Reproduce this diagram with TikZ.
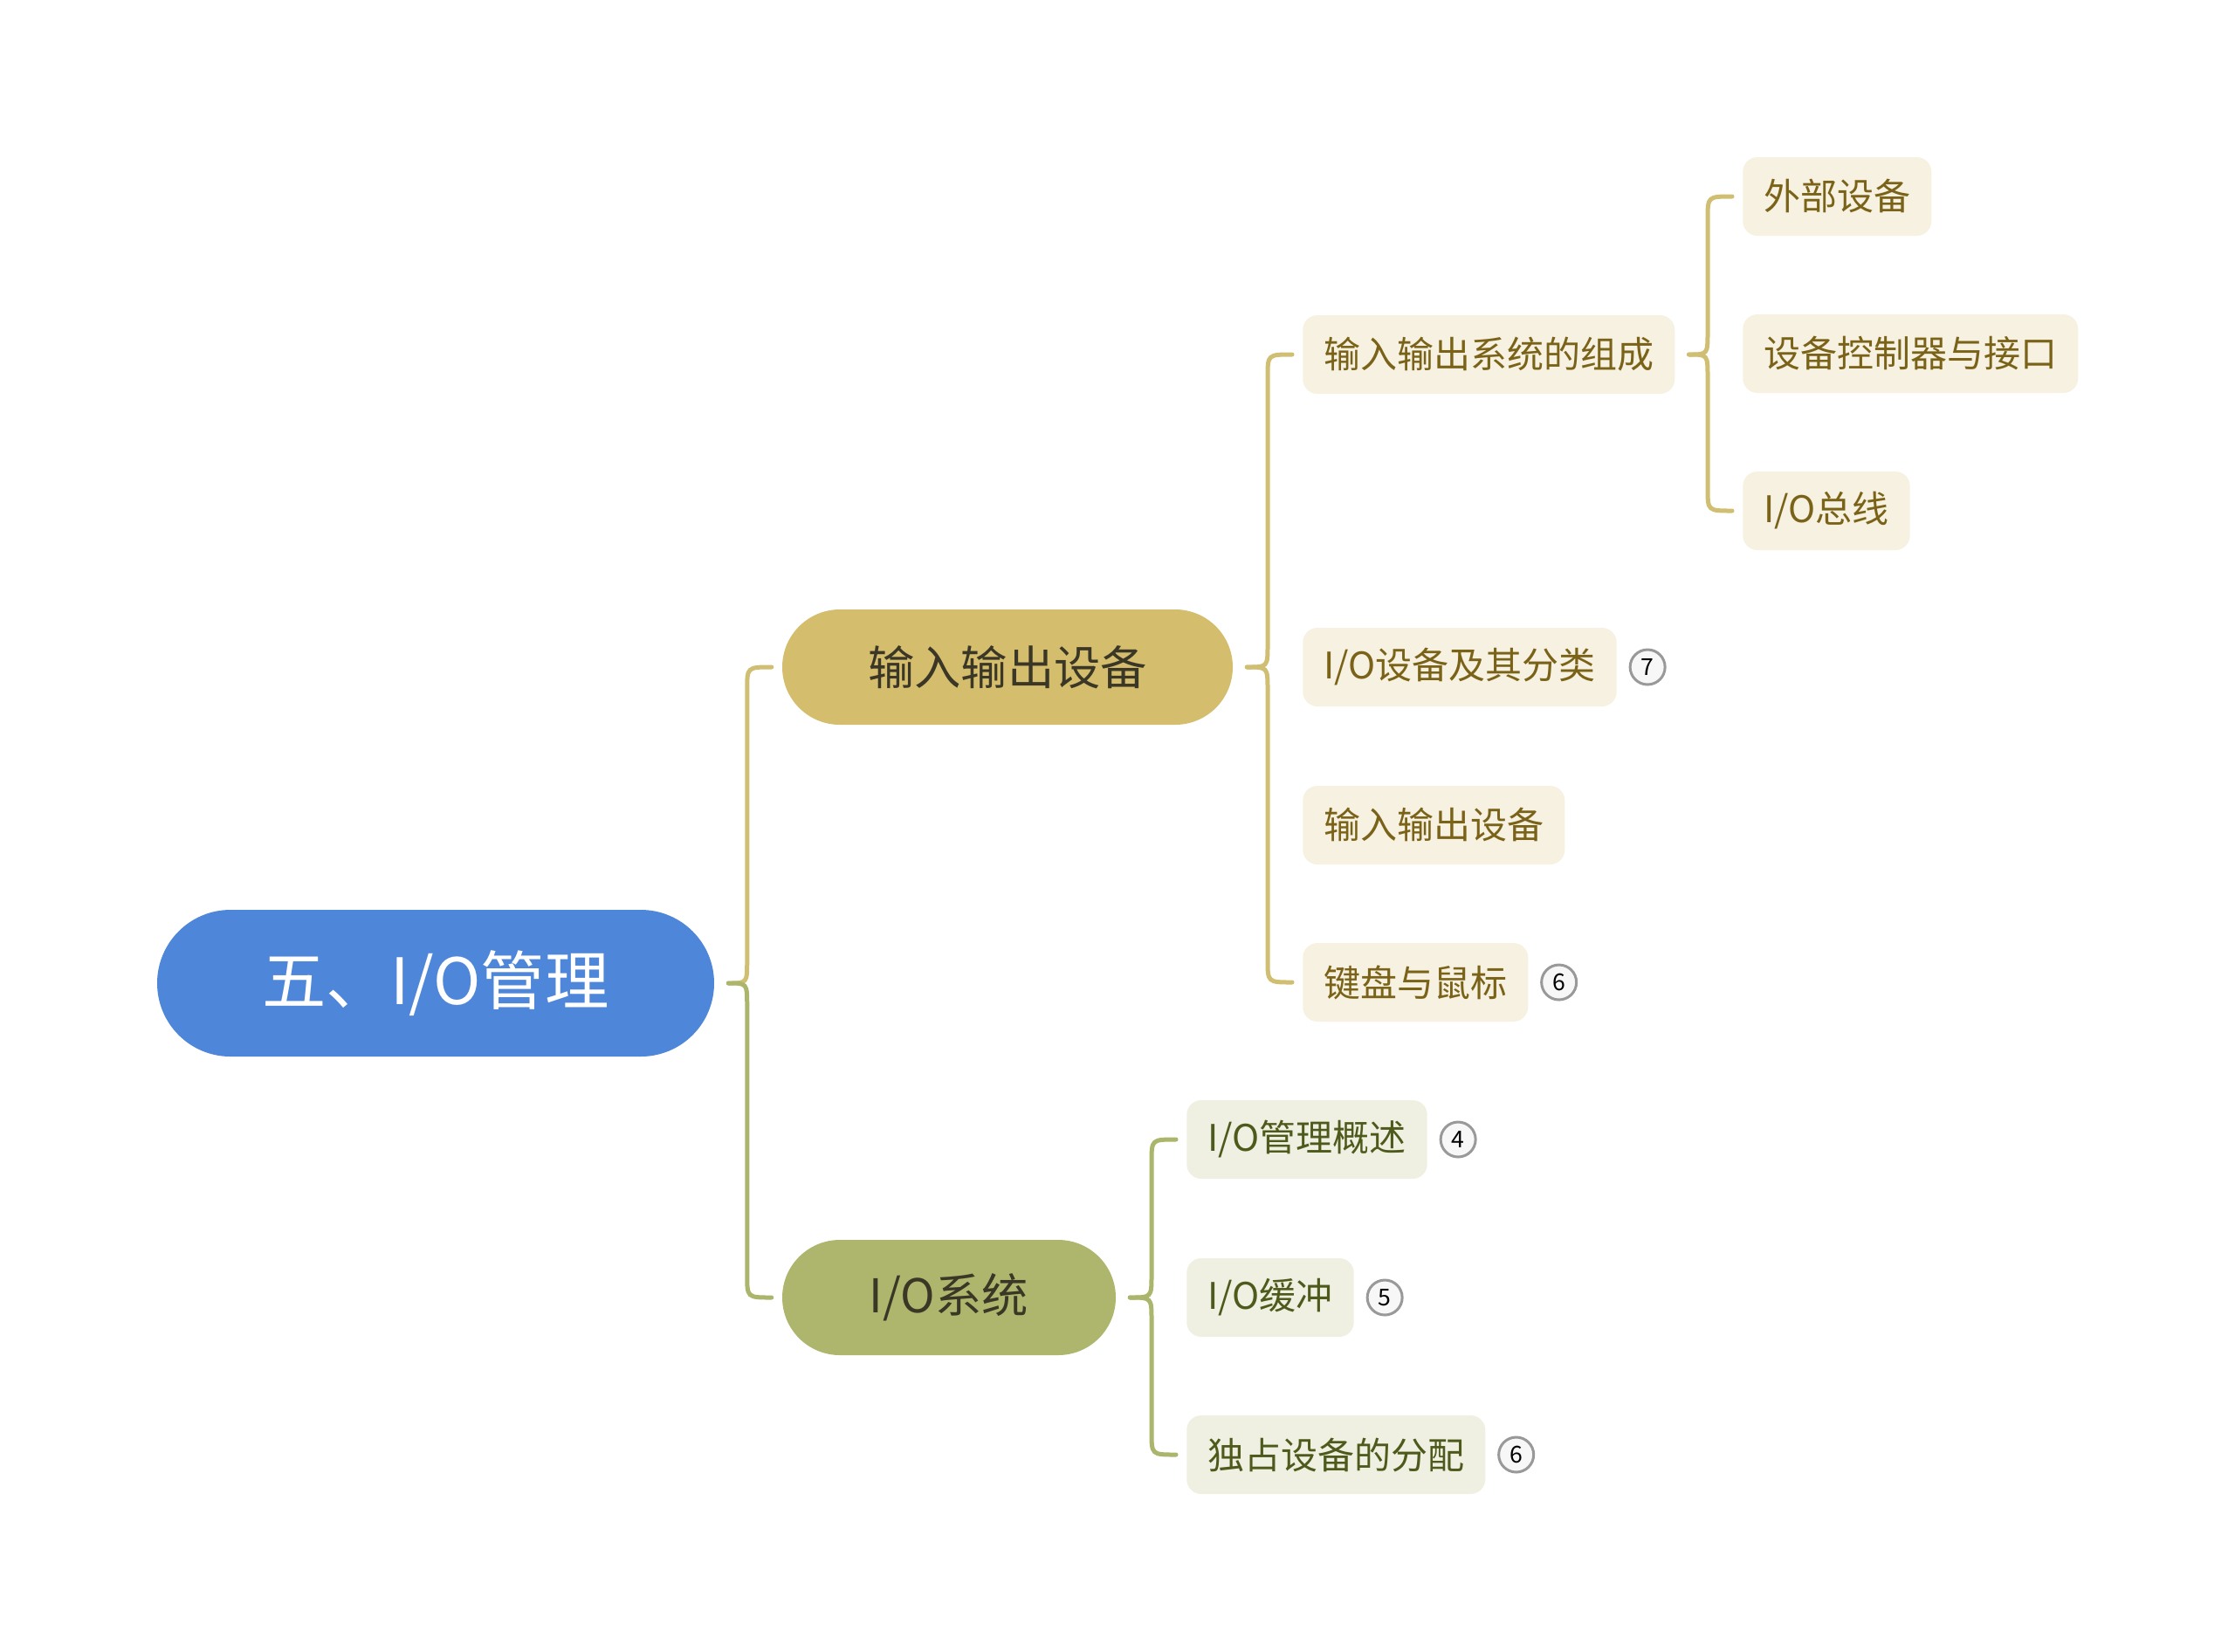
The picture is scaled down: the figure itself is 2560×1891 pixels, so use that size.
\documentclass[tikz,border=0pt]{standalone}
\usepackage{fontspec}
\setmainfont{Noto Sans CJK SC}
\usetikzlibrary{positioning,calc}

\definecolor{rootblue}{HTML}{4E86D9}
\definecolor{sandfill}{HTML}{D4BD6C}
\definecolor{olivefill}{HTML}{ADB66C}
\definecolor{sandlink}{HTML}{D0BE72}
\definecolor{olivelink}{HTML}{ABB56B}
\definecolor{sandleaf}{HTML}{F6F1E0}
\definecolor{oliveleaf}{HTML}{EFF0E1}
\definecolor{sandtext}{HTML}{7A6318}
\definecolor{olivetext}{HTML}{4E5A1C}
\definecolor{darktext}{HTML}{3B3726}

\tikzset{every picture/.style={line width=0.75pt}}
\tikzset{
  rootbox/.style={fill=rootblue, text=white, rounded corners=25.2pt, minimum width=191.4pt,
    minimum height=50.4pt, inner sep=0pt, font=\fontsize{22}{26}\selectfont},
  sandbox/.style={fill=sandfill, text=darktext, rounded corners=19.8pt, minimum width=154.8pt,
    minimum height=39.6pt, inner sep=0pt, font=\fontsize{16}{19}\selectfont},
  olivebox/.style={sandbox, fill=olivefill, minimum width=114.6pt},
  sandleafbox/.style={fill=sandleaf, text=sandtext, rounded corners=5pt, minimum height=27pt,
    inner xsep=7.2pt, inner ysep=0pt, anchor=west, font=\fontsize{12.6}{15}\selectfont},
  oliveleafbox/.style={sandleafbox, fill=oliveleaf, text=olivetext},
  badge/.style={circle, draw=black!40, line width=0.9pt, fill=black!3, minimum size=12pt,
    inner sep=0pt, font=\fontsize{8}{9}\selectfont, right=3.8pt of #1},
  sandline/.style={draw=sandlink, line width=1.5pt, line cap=round},
  oliveline/.style={draw=olivelink, line width=1.5pt, line cap=round}
}

% one half of a curly brace: style, parent, child, -1 when the child lies above
\newcommand{\bracelink}[4]{%
  \draw[#1] ($(#2.east)+(15,0)$)
    .. controls ($(#3.west |- #2.east)+(-39,0)$) .. ($(#3.west |- #2.east)+(-39,26*#4)$)
    -- ($(#3.west)+(-39,-26*#4)$)
    .. controls ($(#3.west)+(-39,0)$) .. ($(#3.west)+(-11,0)$);}

\begin{document}
\begin{tikzpicture}[x=0.3pt,y=0.3pt,yscale=-1,xscale=1]
  \path[use as bounding box] (0,0) rectangle (2560,1891);

  % Root
  \node[rootbox] (root) at (499,1126) {五、I/O管理};

  % Main branches
  \node[sandbox] (dev) at (1154,764) {输入输出设备};
  \node[olivebox] (sys) at (1087,1486) {I/O系统};

  % Leaves of the first branch
  \node[sandleafbox] (parts) at (1491,406) {输入输出系统的组成};
  \node[sandleafbox] (kinds) at (1491,764) {I/O设备及其分类};
  \node[sandleafbox] (iodev) at (1491,945) {输入输出设备};
  \node[sandleafbox] (keys) at (1491,1125) {键盘与鼠标};
  \node[badge=kinds] (nkinds) {7};
  \node[badge=keys] (nkeys) {6};

  \node[sandleafbox] (outer) at (1995,225) {外部设备};
  \node[sandleafbox] (ctrl) at (1995,405) {设备控制器与接口};
  \node[sandleafbox] (bus) at (1995,585) {I/O总线};

  % Leaves of the second branch
  \node[oliveleafbox] (intro) at (1358,1305) {I/O管理概述};
  \node[oliveleafbox] (buf) at (1358,1486) {I/O缓冲};
  \node[oliveleafbox] (alloc) at (1358,1666) {独占设备的分配};
  \node[badge=intro] (nintro) {4};
  \node[badge=buf] (nbuf) {5};
  \node[badge=alloc] (nalloc) {6};

  % Braces
  \bracelink{sandline}{root}{dev}{-1}
  \bracelink{oliveline}{root}{sys}{1}
  \bracelink{sandline}{dev}{parts}{-1}
  \bracelink{sandline}{dev}{keys}{1}
  \bracelink{sandline}{parts}{outer}{-1}
  \bracelink{sandline}{parts}{bus}{1}
  \bracelink{oliveline}{sys}{intro}{-1}
  \bracelink{oliveline}{sys}{alloc}{1}

\end{tikzpicture}
\end{document}
